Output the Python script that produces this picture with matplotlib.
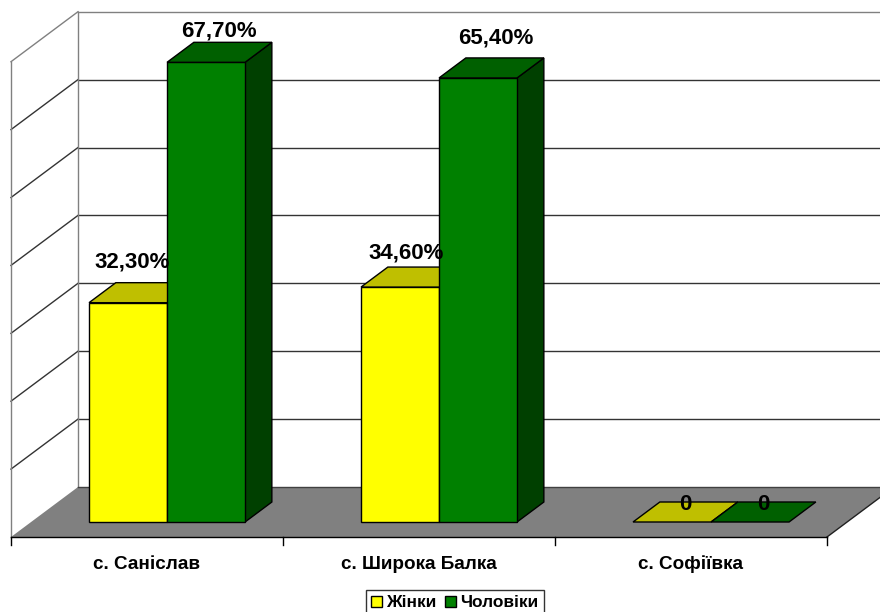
import matplotlib
matplotlib.use("Agg")
import matplotlib.pyplot as plt
from matplotlib.patches import Polygon, Patch

plt.rcParams['font.family'] = ['Liberation Sans', 'DejaVu Sans']
plt.rcParams['font.weight'] = 'bold'

categories = ['с. Саніслав', 'с. Широка Балка', 'с. Софіївка']
women = [32.3, 34.6, 0]
men = [67.7, 65.4, 0]
women_labels = ['32,30%', '34,60%', '0']
men_labels = ['67,70%', '65,40%', '0']
series_names = ['Жінки', 'Чоловіки']
y_ticks = [0, 10, 20, 30, 40, 50, 60, 70]

# px scale of the picture
W, H = 880, 612
PX_X = 272.0   # one category
PX_Y = 6.79    # one percent
X0, Y0 = 11, 537  # front left floor corner in px
WALL_DX = 67 / PX_X
WALL_DY = 50 / PX_Y
BAR_W = 0.2868
BAR_GAP = 0.213
BAR_D0 = 0.30   # bar front, part of the floor depth
BAR_D1 = 0.70   # bar back

fig = plt.figure(figsize=(W / 100, H / 100), dpi=100)
ax = fig.add_axes([0, 0, 1, 1])
ax.set_xlim(-X0 / PX_X, (W - X0) / PX_X)
ax.set_ylim(-(H - Y0) / PX_Y, Y0 / PX_Y)
ax.axis('off')


def proj(x, y, d):
    return x + WALL_DX * d, y + WALL_DY * d


def poly(points, color, edge='black', z=2):
    ax.add_patch(Polygon([proj(*p) for p in points], closed=True, facecolor=color,
                         edgecolor=edge, linewidth=1.0, zorder=z, clip_on=True))


n = len(categories)
top = y_ticks[-1]

# floor
poly([(0, 0, 0), (n, 0, 0), (n, 0, 1), (0, 0, 1)], '#808080', edge='none', z=1)
ax.plot(*zip(proj(0, 0, 1), proj(n, 0, 1)), color='#404040', lw=1.0, zorder=1.5)
ax.plot(*zip(proj(n, 0, 0), proj(n, 0, 1)), color='#202020', lw=1.0, zorder=1.5)

# walls and grid
for t in y_ticks[1:]:
    col = '#808080' if t == top else '#333333'
    ax.plot(*zip(proj(0, t, 1), proj(n, t, 1)), color=col, lw=1.0, zorder=1)
    ax.plot(*zip(proj(0, t, 0), proj(0, t, 1)), color=col, lw=1.0, zorder=1)
ax.plot(*zip(proj(0, 0, 0), proj(0, top, 0)), color='#808080', lw=1.0, zorder=1)
ax.plot(*zip(proj(0, 0, 1), proj(0, top, 1)), color='#808080', lw=1.0, zorder=1)

# front axis line and ticks
ax.plot([0, n], [0, 0], color='black', lw=1.0, zorder=1.5)
for i in range(n + 1):
    ax.plot([i, i], [0, -8 / PX_Y], color='black', lw=1.0, zorder=1.5)
for i, c in enumerate(categories):
    ax.text(i + 0.5, -27.5 / PX_Y, c, ha='center', va='center', fontsize=13.6, color='black')


def bar(x, v, front, side, roof, z):
    x1 = x + BAR_W
    if v > 0:
        poly([(x1, 0, BAR_D0), (x1, 0, BAR_D1), (x1, v, BAR_D1), (x1, v, BAR_D0)], side, z=z)
        poly([(x, 0, BAR_D0), (x1, 0, BAR_D0), (x1, v, BAR_D0), (x, v, BAR_D0)], front, z=z)
    poly([(x, v, BAR_D0), (x1, v, BAR_D0), (x1, v, BAR_D1), (x, v, BAR_D1)], roof, z=z)


for i in range(n):
    x = i + BAR_GAP
    bar(x, women[i], '#FFFF00', '#808000', '#BFBF00', 2 + i)
    bar(x + BAR_W, men[i], '#008000', '#004000', '#006000', 2.5 + i)

# data labels, (dx, dy) px from the bar's front left top corner
women_off = [(43, 40.5), (45, 34.5), (52, 17)]
men_off = [(52, 31), (57, 39.5), (52, 17)]
for i in range(n):
    x = i + BAR_GAP
    dx, dy = women_off[i]
    px, py = proj(x, women[i], BAR_D0)
    ax.text(px + dx / PX_X, py + dy / PX_Y, women_labels[i], ha='center', va='center',
            fontsize=16, color='black', zorder=10)
    dx, dy = men_off[i]
    px, py = proj(x + BAR_W, men[i], BAR_D0)
    ax.text(px + dx / PX_X, py + dy / PX_Y, men_labels[i], ha='center', va='center',
            fontsize=16, color='black', zorder=10)

handles = [Patch(facecolor='#FFFF00', edgecolor='black', linewidth=1.0, label=series_names[0]),
           Patch(facecolor='#008000', edgecolor='black', linewidth=1.0, label=series_names[1])]
leg = fig.legend(handles=handles, ncol=2, loc='upper left',
                 bbox_to_anchor=(366 / W, 1 - 590 / H), fontsize=12.4,
                 frameon=True, fancybox=False, edgecolor='#333333', framealpha=1,
                 borderpad=0.3, handlelength=0.62, handleheight=0.62,
                 handletextpad=0.25, columnspacing=0.5, borderaxespad=0)
leg.get_frame().set_linewidth(1.0)

fig.savefig('out.png', dpi=100)
